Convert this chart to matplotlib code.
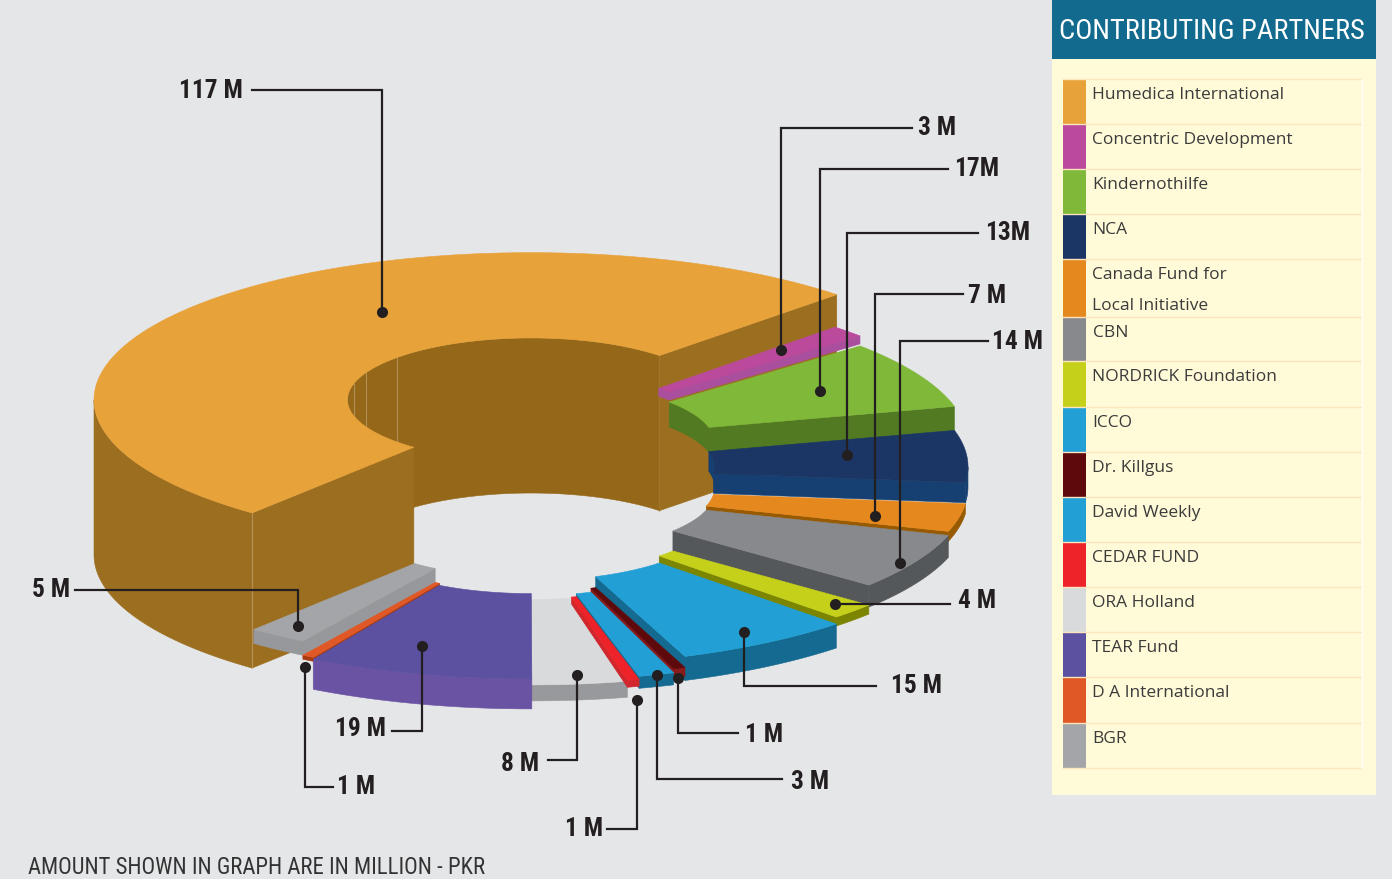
import numpy as np
import matplotlib
matplotlib.use('Agg')
import matplotlib.pyplot as plt
from matplotlib.patches import Polygon, Rectangle
from matplotlib import font_manager as fm

partners = ['Humedica International', 'Concentric Development', 'Kindernothilfe', 'NCA',
            'Canada Fund for\nLocal Initiative', 'CBN', 'NORDRICK Foundation', 'ICCO',
            'Dr. Killgus', 'David Weekly', 'CEDAR FUND', 'ORA Holland', 'TEAR Fund',
            'D A International', 'BGR']
amounts = [117, 3, 17, 13, 7, 14, 4, 15, 1, 3, 1, 8, 19, 1, 5]
amount_labels = ['117 M', '3 M', '17M', '13M', '7 M', '14 M', '4 M', '15 M', '1 M', '3 M',
                 '1 M', '8 M', '19 M', '1 M', '5 M']

top_colors = ['#e8a23a', '#bb4a9d', '#80b83a', '#1b3665', '#e5881e', '#88898c', '#c5d01b', '#22a0d6',
              '#5e0a0c', '#22a0d6', '#ee2229', '#d9dadc', '#5c50a0', '#e05825', '#a4a5a8']
side_colors = ['#9c6f20', '#a94f9e', '#527a22', '#164072', '#975a00', '#55585b', '#7c8500', '#146a90',
               '#8a1a1a', '#146a90', '#d0262c', '#98999c', '#6953a2', '#a83a10', '#97989b']
swatch_colors = list(top_colors)

# how far each slice is pushed down and how thick it is, in pixels
lift = [0, 33, 43, 67, 88, 92, 112, 119, 130, 134, 137, 138, 132, 130, 116]
depth = [155, 8, 25, 20, 10, 22, 9, 24, 9, 12, 7, 16, 30, 4, 14]
draw_order = [0, 1, 2, 3, 4, 5, 6, 7, 8, 9, 11, 10, 14, 13, 12]

CX, CY, RX, RY = 531, 400, 437, 147
INNER = 0.42
START = 45.6
REST_START = 45.9

fams = {f.name for f in fm.fontManager.ttflist}
narrow = next((f for f in ['Roboto Condensed', 'Liberation Sans Narrow', 'Roboto'] if f in fams), 'DejaVu Sans')

fig = plt.figure(figsize=(13.92, 8.795), dpi=100, facecolor='#e5e6e8')
ax = fig.add_axes([0, 0, 1, 1])
ax.set_xlim(0, 1392)
ax.set_ylim(879, 0)
ax.axis('off')


def ring(theta, k, dy):
    t = np.radians(theta)
    return np.column_stack([CX + k * RX * np.cos(t), CY - k * RY * np.sin(t) + dy])


def wall(t0, t1, k, dy, h, color, z):
    arc = np.linspace(t0, t1, 80)
    a = ring(arc, k, dy)
    b = ring(arc[::-1], k, dy + h)
    ax.add_patch(Polygon(np.vstack([a, b]), closed=True, fc=color, ec=color, lw=0.4, zorder=z))


def cut(theta, dy, h, color, z):
    p = ring(np.array([theta, theta]), np.array([1, INNER]), dy)
    q = p[::-1] + [0, h]
    ax.add_patch(Polygon(np.vstack([p, q]), closed=True, fc=color, ec=color, lw=0.4, zorder=z))


sweep = np.array(amounts) * 360 / sum(amounts)
# Humedica runs back round from the start angle, the others go clockwise from it
t_end = REST_START - np.cumsum(np.r_[0, sweep[1:]])
spans = [(START + sweep[0], START)] + [(t_end[i - 1], t_end[i]) for i in range(1, len(amounts))]

for n, i in enumerate(draw_order):
    a0, a1 = spans[i]
    z = 2 + n
    dy, h = lift[i], depth[i]
    side = side_colors[i]
    hi, lo = max(a0, a1), min(a0, a1)
    inner_side = '#956819' if i == 0 else side
    # inner wall shows only on the far half of the hole
    p0, p1 = max(lo, 0), min(hi, 180)
    if p1 > p0:
        wall(p0, p1, INNER, dy, h, inner_side, z)
    if i == 0:
        for seam in [137, 154, 165, START]:
            ax.plot(*ring(np.array([seam, seam]), INNER, np.array([0, h])).T, color='#c0a070',
                    lw=0.8, alpha=0.7, zorder=z)
    if np.cos(np.radians(a1)) > 0:
        cut(a1, dy, h, side, z)
    if np.cos(np.radians(a0)) < 0:
        cut(a0, dy, h, side, z)
    # outer wall shows only on the near half
    for s0, s1 in [(-180, 0), (180, 360)]:
        p0, p1 = max(lo, s0), min(hi, s1)
        if p1 > p0:
            wall(p0, p1, 1, dy, h, side, z)
    arc = np.linspace(a0, a1, 120)
    top = np.vstack([ring(arc, 1, dy), ring(arc[::-1], INNER, dy)])
    ax.add_patch(Polygon(top, closed=True, fc=top_colors[i], ec=top_colors[i], lw=0.4, zorder=z))

edge = START + sweep[0]
ax.plot(*ring(np.array([edge, edge]), 1, np.array([0, 155])).T, color='#c0a070', lw=0.8, alpha=0.7, zorder=2)

# callouts: dot, leader path, label anchor
leader_paths = [
    [(382, 312), (382, 90), (252, 90)], [(781, 350), (781, 128), (912, 128)],
    [(820, 391), (820, 169), (948, 169)], [(847, 455), (847, 233), (978, 233)],
    [(875, 516), (875, 294), (963, 294)], [(900, 563), (900, 341), (988, 341)],
    [(835, 604), (950, 604)], [(744, 632), (744, 686), (876, 686)],
    [(678, 678), (678, 733), (738, 733)], [(657, 675), (657, 779), (782, 779)],
    [(637, 700), (637, 829), (607, 829)], [(577, 675), (577, 760), (548, 760)],
    [(422, 646), (422, 731), (392, 731)], [(305, 667), (305, 787), (333, 787)],
    [(298, 626), (298, 590), (75, 590)],
]
label_pos = [(243, 91, 'right'), (918, 128, 'left'), (954, 169, 'left'), (985, 233, 'left'),
             (968, 296, 'left'), (992, 342, 'left'), (958, 601, 'left'), (891, 686, 'left'),
             (745, 735, 'left'), (791, 782, 'left'), (603, 829, 'right'), (539, 764, 'right'),
             (386, 729, 'right'), (337, 787, 'left'), (70, 590, 'right')]
for path, lab, (lx, ly, ha) in zip(leader_paths, amount_labels, label_pos):
    xs, ys = zip(*path)
    ax.plot(xs, ys, color='#231f20', lw=1.6, zorder=30, solid_joinstyle='miter')
    ax.plot(xs[0], ys[0], 'o', color='#231f20', ms=8, mew=0, zorder=31)
    ax.text(lx, ly, lab, ha=ha, va='center', family=narrow, weight='bold', fontsize=18.3,
            color='#231f20', zorder=32)

ax.text(28, 867, 'AMOUNT SHOWN IN GRAPH ARE IN MILLION - PKR', ha='left', va='center', family=narrow,
        fontsize=16.4, color='#333333')

# legend panel
ax.add_patch(Rectangle((1052, 59), 324, 736, fc='#fffad8', ec='none', zorder=1))
ax.add_patch(Rectangle((1052, 0), 324, 59, fc='#126a8e', ec='none', zorder=1))
ax.text(1212, 31.5, 'CONTRIBUTING PARTNERS', ha='center', va='center', family=narrow, fontsize=20.5,
        color='white', zorder=2)

row_tops = [79.5, 124.5, 169.5, 214.5, 259.5, 317.5, 361.5, 407.5, 452.5, 497.5, 542.5, 587.5, 632.5,
            677.5, 723.5, 768.5]
for i, name in enumerate(partners):
    y0, y1 = row_tops[i], row_tops[i + 1]
    ax.add_patch(Rectangle((1063, y0), 23, y1 - y0, fc=swatch_colors[i], ec='none', zorder=2))
    ax.plot([1063, 1362], [y0, y0], color='#fde5c0', lw=1, zorder=3)
    for k, line in enumerate(name.split('\n')):
        ax.text(1092.5, y0 + 15 + 31 * k, line, ha='left', va='center', family='Open Sans', fontsize=12.5,
                color='#3b3b3b', zorder=4)
ax.plot([1063, 1362], [768.5, 768.5], color='#fde5c0', lw=1, zorder=3)
ax.plot([1362, 1362], [79.5, 768.5], color='white', lw=1, zorder=3)

fig.savefig('out.png', dpi=100, facecolor=fig.get_facecolor())
